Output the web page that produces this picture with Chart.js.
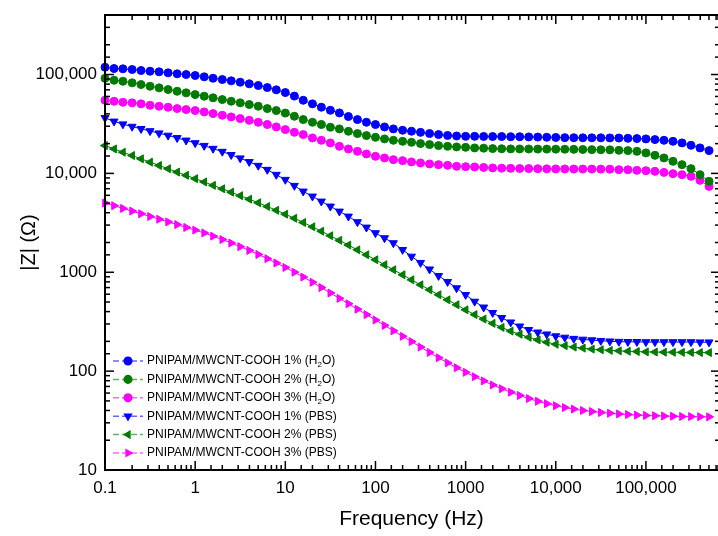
<!DOCTYPE html>
<html>
<head>
  <meta charset="UTF-8">
  <style>
    html, body { margin: 0; padding: 0; overflow: hidden; background: #fff; }
    canvas { display: block; }
  </style>
</head>
<body>
  <canvas id="impedance_chart" width="718" height="536"></canvas>

  <script src="https://cdn.jsdelivr.net/npm/chart.js"></script>
  <script>
    // measurement frequencies (Hz), 10 per decade
    const freqHz = [
      0.1, 0.126, 0.158, 0.2, 0.251, 0.316, 0.398, 0.501, 0.631, 0.794,
      1, 1.26, 1.58, 2, 2.51, 3.16, 3.98, 5.01, 6.31, 7.94,
      10, 12.6, 15.8, 20, 25.1, 31.6, 39.8, 50.1, 63.1, 79.4,
      100, 126, 158, 200, 251, 316, 398, 501, 631, 794,
      1000, 1259, 1585, 1995, 2512, 3162, 3981, 5012, 6310, 7943,
      10000, 12589, 15849, 19953, 25119, 31623, 39811, 50119, 63096, 79433,
      100000, 125893, 158489, 199526, 251189, 316228, 398107, 501187
    ]

    // |Z| (ohm)
    const z1H2O = [
      118500, 115000, 114200, 112400, 109800, 108000, 106500, 104000, 101600, 100000,
      97700, 94800, 91700, 89000, 86300, 83600, 80500, 77400, 73800, 70000,
      65700, 60500, 54900, 50500, 46700, 43500, 40900, 37600, 35000, 32900,
      31200, 29500, 28200, 27300, 26700, 26000, 25300, 24700, 24200, 23900,
      23700, 23700, 23650, 23600, 23600, 23500, 23500, 23400, 23300, 23200,
      23100, 23000, 22950, 22900, 22900, 22900, 22850, 22800, 22650, 22500,
      22330, 21970, 21610, 21110, 20340, 19240, 18100, 17000
    ]
    const z2H2O = [
      91500, 87500, 85500, 82400, 79200, 76100, 73300, 70500, 67700, 65250,
      62700, 60300, 58100, 55800, 53650, 51700, 49700, 47750, 45250, 43200,
      40750, 37830, 35020, 32880, 31170, 29270, 28200, 26670, 25270, 24110,
      23170, 22330, 21610, 21110, 20620, 20010, 19550, 19100, 18790, 18530,
      18350, 18100, 18000, 17810, 17750, 17700, 17680, 17650, 17620, 17600,
      17580, 17550, 17500, 17450, 17390, 17350, 17300, 17120, 17000, 16720,
      16110, 15230, 14330, 13240, 12260, 11170, 9710, 8310
    ]
    const z3H2O = [
      54900, 53650, 52420, 51690, 50490, 48880, 47750, 46650, 45260, 44210,
      43200, 41900, 40270, 38710, 37290, 35840, 34450, 32880, 31170, 29530,
      27730, 26040, 24690, 22860, 21610, 20340, 18790, 17680, 16720, 15740,
      14880, 14330, 13780, 13460, 13060, 12760, 12460, 12260, 12060, 11790,
      11700, 11620, 11500, 11350, 11300, 11250, 11200, 11180, 11150, 11120,
      11100, 11090, 11080, 11070, 11060, 11050, 11040, 10910, 10880, 10735,
      10660, 10490, 10240, 9940, 9710, 9340, 8500, 7390
    ]
    const z1PBS = [
      36430, 33570, 31460, 29750, 28250, 26840, 25500, 24170, 22860, 21560,
      20290, 19050, 17810, 16610, 15410, 14240, 13090, 11980, 10910, 9710,
      8640, 7510, 6580, 5855, 5210, 4640, 4127, 3673, 3223, 2842,
      2494, 2219, 1975, 1689, 1445, 1248, 1072, 921, 801, 692,
      592, 506, 442, 389, 346, 312, 284, 262, 247, 236,
      226, 219, 213, 209, 206, 203, 200.5, 198.7, 198, 198,
      197, 197, 197, 197, 197, 197, 196, 196
    ]
    const z2PBS = [
      19100, 17680, 16370, 15160, 14040, 13000, 12030, 11140, 10310, 9556,
      8849, 8191, 7567, 6990, 6459, 5951, 5486, 5044, 4627, 4235,
      3867, 3513, 3186, 2882, 2601, 2342, 2103, 1885, 1685, 1503,
      1338, 1191, 1060, 943, 839, 747, 665, 592, 526, 469,
      417, 373, 336, 304, 277, 254, 236, 220, 207, 196,
      187, 181, 175, 171, 167, 164.5, 162.2, 160.3, 158.8, 157.7,
      156.6, 156.0, 155.5, 155.2, 154.8, 154.5, 154.2, 153.9
    ]
    const z3PBS = [
      5021, 4713, 4426, 4156, 3903, 3664, 3441, 3231, 3034, 2842,
      2669, 2500, 2320, 2143, 1975, 1816, 1662, 1514, 1373, 1242,
      1118, 1002, 894, 792, 700, 617, 544, 480, 423, 373,
      329, 290, 256, 225, 199, 175, 154.5, 136.5, 121.2, 108.3,
      97.3, 87.8, 79.6, 72.5, 66.4, 61.2, 56.7, 52.8, 49.6, 46.9,
      44.7, 42.8, 41.3, 40.0, 39.0, 38.2, 37.5, 36.9, 36.4, 35.9,
      35.6, 35.4, 35.1, 35.0, 34.8, 34.7, 34.6, 34.5
    ]

    const seriesLabels = [
      'PNIPAM/MWCNT-COOH 1% (H₂O)',
      'PNIPAM/MWCNT-COOH 2% (H₂O)',
      'PNIPAM/MWCNT-COOH 3% (H₂O)',
      'PNIPAM/MWCNT-COOH 1% (PBS)',
      'PNIPAM/MWCNT-COOH 2% (PBS)',
      'PNIPAM/MWCNT-COOH 3% (PBS)'
    ]

    // labelled (decade) ticks
    const xTickValues = [0.1, 1, 10, 100, 1000, 10000, 100000]
    const xTickLabels = ['0.1', '1', '10', '100', '1000', '10,000', '100,000']
    const yTickValues = [10, 100, 1000, 10000, 100000]
    const yTickLabels = ['10', '100', '1000', '10,000', '100,000']

    const FONT = 'Liberation Sans, Arial, sans-serif'

    function tickText(value, values, labels){
      for(let i=0; i<values.length; i++){
        if(Math.abs(Math.log10(value / values[i])) < 1e-6) return labels[i]
      }
      return ''
    }

    function isDecade(v){
      const l = Math.log10(v)
      return Math.abs(l - Math.round(l)) < 1e-6
    }

    function makeSet(label, values, color, style, rot, radius){
      return {
        label: label,
        data: freqHz.map((f, i) => ({x: f, y: values[i]})),
        borderColor: color,
        backgroundColor: color,
        borderWidth: 1,
        pointStyle: style,
        pointRotation: rot,
        pointRadius: radius,
        pointBorderWidth: 1,
        pointBackgroundColor: color,
        pointBorderColor: color,
        tension: 0,
        clip: false
      }
    }

    // inward ticks on all four sides + frame (right edge of the box sits just off the picture)
    const framePlugin = {
      id: 'frame',
      afterDatasetsDraw(chart){
        const {ctx, chartArea: a, scales: {x, y}} = chart
        const seg = (x1, y1, x2, y2) => { ctx.beginPath(); ctx.moveTo(x1, y1); ctx.lineTo(x2, y2); ctx.stroke() }
        const rightEdge = a.right + 2
        ctx.save()
        ctx.strokeStyle = '#000'
        ctx.lineWidth = 1.5
        x.ticks.forEach(t => {
          if(t.value < x.min || t.value > x.max) return
          const px = x.getPixelForValue(t.value)
          const len = isDecade(t.value) ? 9 : 5
          seg(px, a.bottom, px, a.bottom - len)
          seg(px, a.top, px, a.top + len)
        })
        y.ticks.forEach(t => {
          if(t.value < y.min || t.value > y.max) return
          const py = y.getPixelForValue(t.value)
          const len = isDecade(t.value) ? 9 : 5
          seg(a.left, py, a.left + len, py)
          seg(rightEdge, py, rightEdge - len, py)
        })
        ctx.lineWidth = 2
        ctx.beginPath()
        ctx.moveTo(rightEdge, a.top)
        ctx.lineTo(a.left, a.top)
        ctx.lineTo(a.left, a.bottom)
        ctx.lineTo(rightEdge, a.bottom)
        ctx.stroke()
        ctx.restore()
      }
    }

    // legend inside the plot, with subscript for H2O
    const legendPlugin = {
      id: 'insideLegend',
      afterDraw(chart){
        const ctx = chart.ctx
        chart.data.datasets.forEach((ds, i) => {
          const yy = 361 + i * 18.4
          ctx.save()
          ctx.strokeStyle = ds.borderColor
          ctx.globalAlpha = 0.6
          ctx.lineWidth = 1.5
          ctx.setLineDash([6, 3])
          ctx.beginPath(); ctx.moveTo(113, yy); ctx.lineTo(143, yy); ctx.stroke()
          ctx.setLineDash([])
          ctx.globalAlpha = 1
          ctx.fillStyle = ds.borderColor
          Chart.helpers.drawPoint(ctx, {
            pointStyle: ds.pointStyle, rotation: ds.pointRotation,
            radius: 3.8, borderWidth: 1
          }, 128, yy)

          ctx.fillStyle = '#000'
          ctx.textBaseline = 'middle'
          ctx.textAlign = 'left'
          const parts = ds.label.split('₂')
          let tx = 147
          ctx.font = '12px ' + FONT
          ctx.fillText(parts[0], tx, yy)
          if(parts.length > 1){
            tx += ctx.measureText(parts[0]).width
            ctx.font = '8px ' + FONT
            ctx.fillText('2', tx, yy + 4)
            tx += ctx.measureText('2').width
            ctx.font = '12px ' + FONT
            ctx.fillText(parts[1], tx, yy)
          }
          ctx.restore()
        })
      }
    }

    const chartEl = document.getElementById('impedance_chart')
    const impedanceChart = new Chart(chartEl, {
      type: 'line',
      data: {
        datasets: [
          makeSet(seriesLabels[0], z1H2O, '#0000ff', 'circle', 0, 4),
          makeSet(seriesLabels[1], z2H2O, '#007a00', 'circle', 0, 4),
          makeSet(seriesLabels[2], z3H2O, '#ff00ff', 'circle', 0, 4),
          makeSet(seriesLabels[3], z1PBS, '#0000ff', 'triangle', 180, 4.6),
          makeSet(seriesLabels[4], z2PBS, '#007a00', 'triangle', 270, 4.6),
          makeSet(seriesLabels[5], z3PBS, '#ff00ff', 'triangle', 90, 4.6)
        ]
      },
      options: {
        responsive: false,
        animation: false,
        layout: { autoPadding: false, padding: { top: 15, right: 0, left: 0, bottom: 0 } },
        plugins: {
          legend: { display: false },
          tooltip: { enabled: false }
        },
        scales: {
          x: {
            type: 'logarithmic',
            min: 0.1,
            max: 630000,
            grid: { display: false, drawTicks: false },
            border: { display: false },
            ticks: {
              autoSkip: false,
              maxRotation: 0,
              padding: 8,
              color: '#000',
              font: { family: FONT, size: 17 },
              callback: (v) => tickText(v, xTickValues, xTickLabels)
            },
            title: {
              display: true,
              text: 'Frequency (Hz)',
              color: '#000',
              font: { family: FONT, size: 21 },
              padding: { top: 0, bottom: 4 }
            },
            afterFit: (s) => { s.height = 66; s.paddingLeft = 0; s.paddingRight = 0 }
          },
          y: {
            type: 'logarithmic',
            min: 10,
            max: 400000,
            grid: { display: false, drawTicks: false },
            border: { display: false },
            ticks: {
              autoSkip: false,
              padding: 8,
              color: '#000',
              font: { family: FONT, size: 17 },
              callback: (v) => tickText(v, yTickValues, yTickLabels)
            },
            title: {
              display: true,
              text: '|Z| (Ω)',
              color: '#000',
              font: { family: FONT, size: 20 },
              padding: { top: 17, bottom: 0 }
            },
            afterFit: (s) => { s.width = 105; s.paddingTop = 0; s.paddingBottom = 0 }
          }
        }
      },
      plugins: [framePlugin, legendPlugin]
    })
  </script>
</body>
</html>
